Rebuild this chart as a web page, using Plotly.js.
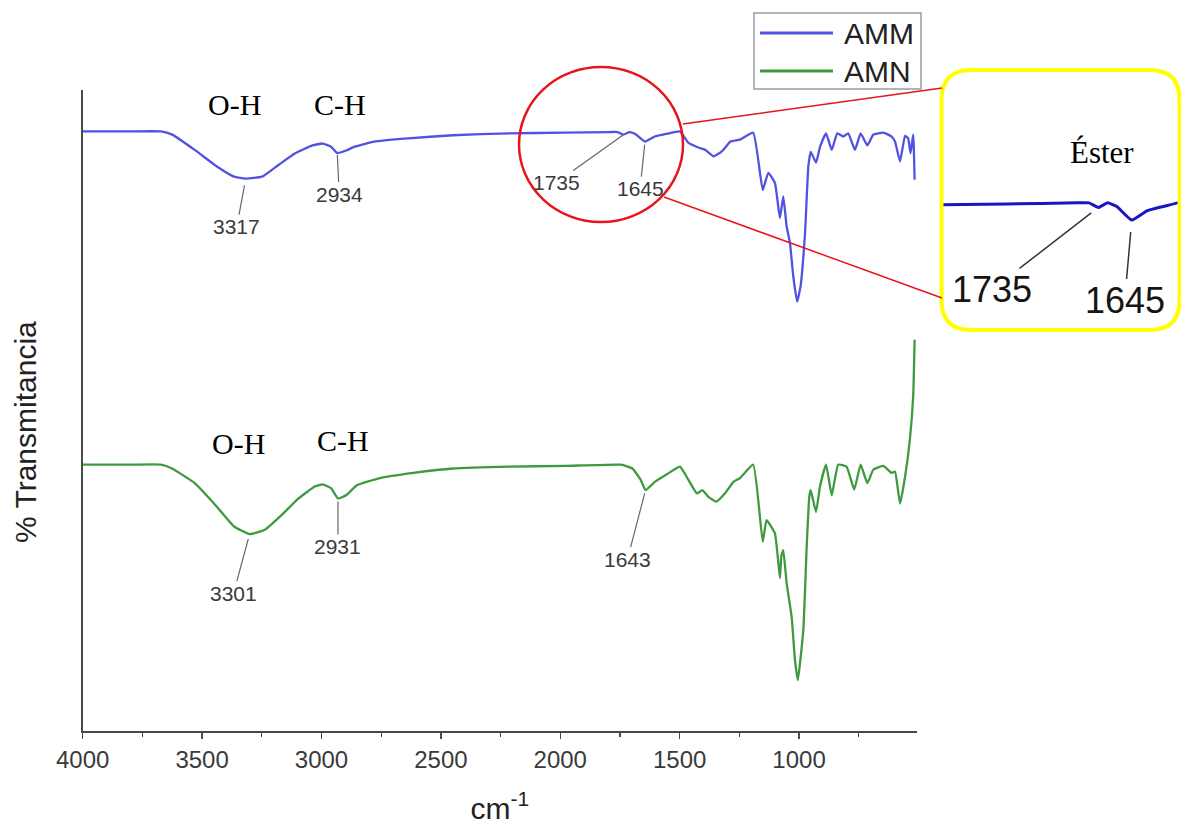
<!DOCTYPE html>
<html>
<head>
<meta charset="utf-8">
<script src="https://cdn.plot.ly/plotly-3.0.1.min.js"></script>
<style>
  html, body { margin: 0; padding: 0; background: #fff; }
  #chart { width: 1181px; height: 825px; }
</style>
</head>
<body>
<div id="chart"></div>
<script>
// FTIR spectra (wavenumber in cm-1, transmittance in arbitrary % units)
const wavenumberAMM = [4000, 3800, 3672, 3625, 3531, 3438, 3366, 3317, 3249, 3178, 3108, 3038, 2995, 2960, 2934, 2897, 2861, 2779, 2638, 2450, 2215, 1980, 1792, 1760, 1735, 1710, 1686, 1645, 1604, 1557, 1499, 1463, 1416, 1393, 1357, 1322, 1287, 1247, 1192, 1152, 1129, 1101, 1080, 1066, 1052, 1038, 1024, 1008, 994, 975, 961, 951, 929, 912, 887, 863, 840, 815, 794, 766, 742, 714, 689, 647, 612, 598, 577, 556, 543, 533, 522, 516];
const transmAMM = [94.1, 94.1, 94.1, 93.6, 91.2, 88.6, 87.0, 86.7, 87.0, 88.9, 90.7, 91.9, 92.2, 91.7, 90.7, 91.1, 91.7, 92.5, 93.0, 93.5, 93.8, 93.9, 94.0, 94.0, 93.6, 94.0, 93.7, 92.5, 93.3, 93.7, 94.1, 92.3, 91.5, 91.2, 90.2, 91.0, 92.5, 92.8, 93.9, 84.9, 87.6, 86.0, 80.5, 83.9, 79.2, 76.6, 71.3, 67.4, 69.7, 78.1, 88.6, 90.9, 89.2, 91.7, 93.8, 91.2, 93.8, 93.3, 93.8, 91.2, 93.8, 91.9, 93.6, 93.9, 93.3, 92.5, 89.4, 93.4, 93.0, 90.7, 93.6, 86.5];

const wavenumberAMN = [4000, 3800, 3672, 3626, 3531, 3438, 3366, 3301, 3237, 3167, 3096, 3026, 2995, 2960, 2931, 2897, 2850, 2755, 2615, 2450, 2215, 1980, 1746, 1698, 1663, 1643, 1604, 1557, 1499, 1463, 1428, 1405, 1381, 1346, 1310, 1275, 1247, 1192, 1152, 1136, 1101, 1080, 1074, 1066, 1052, 1031, 1017, 1005, 982, 968, 957, 951, 929, 912, 887, 863, 836, 801, 769, 742, 714, 689, 647, 612, 598, 577, 556, 536, 522, 516];
const transmAMN = [41.8, 41.8, 41.8, 41.2, 38.9, 35.2, 32.1, 30.9, 31.6, 33.9, 36.5, 38.4, 38.7, 38.1, 36.5, 37.0, 38.6, 39.7, 40.5, 41.2, 41.5, 41.6, 41.8, 41.2, 39.4, 37.8, 39.1, 40.2, 41.5, 39.4, 37.3, 37.8, 36.8, 36.0, 37.3, 39.1, 39.7, 41.8, 29.7, 33.1, 31.0, 24.0, 27.5, 28.4, 23.2, 17.9, 11.1, 8.0, 15.9, 28.9, 36.8, 37.8, 34.4, 38.4, 41.8, 37.0, 41.8, 41.5, 37.9, 41.8, 38.9, 41.0, 41.6, 40.5, 40.7, 35.7, 39.9, 45.7, 52.5, 61.4];

const seriesNames = ['AMM', 'AMN'];
const seriesColors = ['#5252e2', '#3f9a3f'];
const insetColor = '#1616c6';

// Labelled band positions (cm-1)
const peaksAMM = [3317, 2934, 1735, 1645];
const peaksAMN = [3301, 2931, 1643];
const insetPeaks = [1735, 1645];

const xTickValues = [4000, 3500, 3000, 2500, 2000, 1500, 1000];
const xTickText = ['4000', '3500', '3000', '2500', '2000', '1500', '1000'];

const W = 1181, H = 825;
const px = x => x / W;          // pixel -> paper x
const py = y => 1 - y / H;      // pixel -> paper y

const sans = 'Liberation Sans, Arial, sans-serif';
const serif = 'Liberation Serif, Times New Roman, serif';

function valueAt(xs, ys, v) {
  const i = xs.indexOf(v);
  return ys[i];
}

const traces = [
  { x: wavenumberAMM, y: transmAMM, name: seriesNames[0], type: 'scatter', mode: 'lines',
    line: { color: seriesColors[0], width: 2.3, shape: 'spline', smoothing: 0.4 }, showlegend: false },
  { x: wavenumberAMN, y: transmAMN, name: seriesNames[1], type: 'scatter', mode: 'lines',
    line: { color: seriesColors[1], width: 2.3, shape: 'spline', smoothing: 0.4 }, showlegend: false },
  // magnified ester region of AMM
  { x: wavenumberAMM, y: transmAMM, name: seriesNames[0], type: 'scatter', mode: 'lines',
    xaxis: 'x2', yaxis: 'y2', hoverinfo: 'skip',
    line: { color: insetColor, width: 3, shape: 'spline', smoothing: 0.4 }, showlegend: false }
];

const peakFont = { family: sans, size: 21, color: '#3a3a3a' };
function peakNote(xs, ys, v, ax, ay, stand) {
  return { x: v, y: valueAt(xs, ys, v), xref: 'x', yref: 'y', text: String(v),
    showarrow: true, arrowhead: 0, arrowwidth: 1.2, arrowcolor: '#666',
    ax: ax, ay: ay, standoff: stand, font: peakFont, borderpad: 0 };
}

function label(x, y, text, font, xanchor, angle) {
  return { xref: 'paper', yref: 'paper', x: px(x), y: py(y), text: text, showarrow: false,
    xanchor: xanchor || 'center', yanchor: 'middle', textangle: angle || 0, font: font };
}

const bandFont = { family: serif, size: 30, color: '#000' };
const legendFont = { family: sans, size: 30, color: '#222' };

const annotations = [
  peakNote(wavenumberAMM, transmAMM, peaksAMM[0], -9, 48, 7),
  peakNote(wavenumberAMM, transmAMM, peaksAMM[1], 2, 41, 2),
  peakNote(wavenumberAMM, transmAMM, peaksAMM[2], -67, 48, 1),
  peakNote(wavenumberAMM, transmAMM, peaksAMM[3], -5, 47, 3),
  peakNote(wavenumberAMN, transmAMN, peaksAMN[0], -16, 59, 5),
  peakNote(wavenumberAMN, transmAMN, peaksAMN[1], 0, 48, 3),
  peakNote(wavenumberAMN, transmAMN, peaksAMN[2], -18, 69, 3),
  // inset labels
  { x: insetPeaks[0], y: valueAt(wavenumberAMM, transmAMM, insetPeaks[0]), xref: 'x2', yref: 'y2',
    text: String(insetPeaks[0]), showarrow: true, arrowhead: 0, arrowwidth: 1.5, arrowcolor: '#333',
    ax: -106, ay: 82, standoff: 9, font: { family: sans, size: 36, color: '#151515' }, borderpad: 0 },
  { x: insetPeaks[1], y: valueAt(wavenumberAMM, transmAMM, insetPeaks[1]), xref: 'x2', yref: 'y2',
    text: String(insetPeaks[1]), showarrow: true, arrowhead: 0, arrowwidth: 1.5, arrowcolor: '#333',
    ax: -7, ay: 80, standoff: 12, font: { family: sans, size: 36, color: '#151515' }, borderpad: 0 },
  label(1102, 153, 'Éster', { family: serif, size: 31, color: '#000' }),
  // functional group labels
  label(234, 105, 'O-H', bandFont),
  label(340, 105, 'C-H', bandFont),
  label(238, 443, 'O-H', bandFont),
  label(343, 440, 'C-H', bandFont),
  // y axis title
  label(25, 432, '% Transmitancia', { family: sans, size: 30, color: '#222' }, 'center', -90),
  // legend entries
  label(842, 33, seriesNames[0], legendFont, 'left'),
  label(842, 71, seriesNames[1], legendFont, 'left')
];

// rounded rectangle path in paper units
function roundedRect(x0, y0, x1, y1, r) {
  const X = v => px(v).toFixed(5), Y = v => py(v).toFixed(5);
  return 'M' + X(x0 + r) + ',' + Y(y0) +
    ' L' + X(x1 - r) + ',' + Y(y0) +
    ' Q' + X(x1) + ',' + Y(y0) + ' ' + X(x1) + ',' + Y(y0 + r) +
    ' L' + X(x1) + ',' + Y(y1 - r) +
    ' Q' + X(x1) + ',' + Y(y1) + ' ' + X(x1 - r) + ',' + Y(y1) +
    ' L' + X(x0 + r) + ',' + Y(y1) +
    ' Q' + X(x0) + ',' + Y(y1) + ' ' + X(x0) + ',' + Y(y1 - r) +
    ' L' + X(x0) + ',' + Y(y0 + r) +
    ' Q' + X(x0) + ',' + Y(y0) + ' ' + X(x0 + r) + ',' + Y(y0) + ' Z';
}

const red = '#e8141b';
const shapes = [
  { type: 'path', xref: 'paper', yref: 'paper', path: roundedRect(941.5, 70, 1179.5, 330, 30),
    line: { color: '#ffff00', width: 4 }, fillcolor: 'rgba(255,255,255,0)', layer: 'above' },
  { type: 'circle', xref: 'paper', yref: 'paper', x0: px(519), x1: px(683), y0: py(222), y1: py(67),
    line: { color: red, width: 2.5 } },
  { type: 'line', xref: 'paper', yref: 'paper', x0: px(683), y0: py(124), x1: px(942), y1: py(88),
    line: { color: red, width: 1.5 } },
  { type: 'line', xref: 'paper', yref: 'paper', x0: px(664), y0: py(197), x1: px(942), y1: py(298),
    line: { color: red, width: 1.5 } },
  // legend box
  { type: 'rect', xref: 'paper', yref: 'paper', x0: px(754), x1: px(921), y0: py(89), y1: py(13),
    line: { color: '#9a9a9a', width: 1.5 }, fillcolor: '#fff' },
  { type: 'line', xref: 'paper', yref: 'paper', x0: px(760), x1: px(833), y0: py(33), y1: py(33),
    line: { color: seriesColors[0], width: 3 } },
  { type: 'line', xref: 'paper', yref: 'paper', x0: px(760), x1: px(833), y0: py(71), y1: py(71),
    line: { color: seriesColors[1], width: 3 } }
];

const axisGrey = '#4a4a4a';
const layout = {
  width: W, height: H,
  margin: { l: 0, r: 0, t: 0, b: 0 },
  paper_bgcolor: '#fff', plot_bgcolor: 'rgba(0,0,0,0)',
  showlegend: false,
  xaxis: {
    domain: [px(82.7), px(917)], range: [4000, 506],
    tickmode: 'array', tickvals: xTickValues, ticktext: xTickText,
    ticks: 'outside', ticklen: 6, tickwidth: 1.5, tickcolor: axisGrey,
    minor: { tickmode: 'linear', tick0: 0, dtick: 250, ticks: 'outside', ticklen: 4, tickwidth: 1.2, tickcolor: axisGrey },
    showline: true, linecolor: axisGrey, linewidth: 1.8,
    showgrid: false, zeroline: false, automargin: false,
    tickfont: { family: sans, size: 24, color: '#3a3a3a' },
    title: { text: 'cm<sup>-1</sup>', font: { family: sans, size: 30, color: '#222' }, standoff: 34 }
  },
  yaxis: {
    domain: [py(731), py(90)], range: [0, 100.6],
    showline: true, linecolor: axisGrey, linewidth: 1.8,
    ticks: '', showticklabels: false, showgrid: false, zeroline: false, automargin: false
  },
  xaxis2: {
    domain: [px(941.7), px(1180)], range: [2157, 1515], anchor: 'y2',
    visible: false, showgrid: false, zeroline: false
  },
  yaxis2: {
    domain: [py(330), py(70)], range: [82.9, 105.6], anchor: 'x2',
    visible: false, showgrid: false, zeroline: false
  },
  annotations: annotations,
  shapes: shapes
};

Plotly.newPlot('chart', traces, layout, { staticPlot: true, displayModeBar: false });
</script>
</body>
</html>
